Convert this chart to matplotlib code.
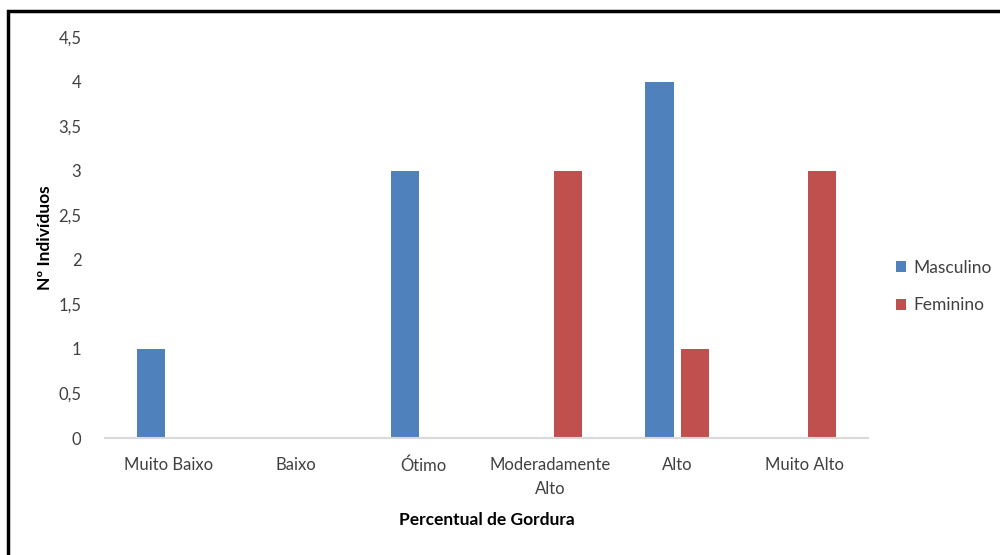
import matplotlib.pyplot as plt
import numpy as np
from matplotlib.patches import Rectangle

# categorias de percentual de gordura e contagem por sexo
categorias = ['Muito Baixo', 'Baixo', 'Ótimo', 'Moderadamente\nAlto', 'Alto', 'Muito Alto']
masculino = [1, 0, 3, 0, 4, 0]
feminino = [0, 0, 0, 3, 1, 3]

cor_masc = '#4F81BD'
cor_fem = '#C0504D'
cor_texto = '#404040'

plt.rcParams['font.family'] = ['Lato', 'DejaVu Sans']

fig = plt.figure(figsize=(10, 5.55), dpi=100)
ax = fig.add_axes([0.105, 0.2108, 0.763, 0.7225])

x = np.arange(len(categorias))
largura = 0.224
desloc = 0.1395

# barras de zero não aparecem no gráfico original
m_idx = [i for i, v in enumerate(masculino) if v > 0]
f_idx = [i for i, v in enumerate(feminino) if v > 0]
ax.bar(x[m_idx] - desloc, [masculino[i] for i in m_idx], largura, color=cor_masc, label='Masculino')
ax.bar(x[f_idx] + desloc, [feminino[i] for i in f_idx], largura, color=cor_fem, label='Feminino')

ax.set_xlim(-0.5, len(categorias) - 0.5)
ax.set_ylim(0, 4.5)
ax.set_yticks(np.arange(0, 4.51, 0.5))
ax.set_yticklabels([f'{v:g}'.replace('.', ',') for v in np.arange(0, 4.51, 0.5)])
ax.set_xticks(x)
ax.set_xticklabels(categorias, linespacing=1.55, va='top')

for s in ['top', 'right', 'left']:
    ax.spines[s].set_visible(False)
ax.spines['bottom'].set_color('#D9D9D9')
ax.spines['bottom'].set_linewidth(1.5)
ax.tick_params(axis='both', length=0, labelsize=12, colors=cor_texto)
ax.tick_params(axis='y', pad=17)
ax.tick_params(axis='x', pad=14)

ax.set_xlabel('Percentual de Gordura', fontsize=12.5, fontweight='bold', color='black')
ax.set_ylabel('Nº Indivíduos', fontsize=12.5, fontweight='bold', color='black')
ax.xaxis.set_label_coords(0.5006, -0.2045)
ax.xaxis.label.set_va('center')
ax.yaxis.set_label_coords(-0.0786, 0.5)
ax.yaxis.label.set_va('center')

leg = fig.legend(loc='center left', bbox_to_anchor=(0.88, 0.4838), frameon=False,
                 fontsize=12.5, handlelength=0.6, handleheight=0.6, handletextpad=0.4,
                 labelspacing=1.25, labelcolor=cor_texto)

# moldura do gráfico
fig.patches.append(Rectangle((0.008, -0.1), 1.1, 1.1 - 11 / 555, transform=fig.transFigure,
                             fill=False, edgecolor='black', linewidth=2.5))

fig.savefig('out.png', dpi=100)
